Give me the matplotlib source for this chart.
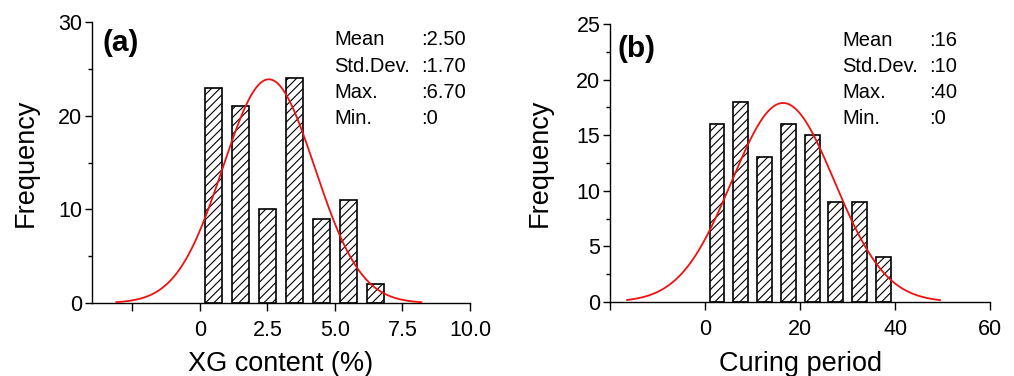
import numpy as np
import matplotlib
matplotlib.use("Agg")
import matplotlib.pyplot as plt
from matplotlib.ticker import MultipleLocator, FixedLocator

plt.rcParams['font.family'] = ['Liberation Sans', 'DejaVu Sans']
plt.rcParams['hatch.linewidth'] = 0.8

# Panel (a) data
xg_centers = [0.5, 1.5, 2.5, 3.5, 4.5, 5.5, 6.5]
xg_freq = [23, 21, 10, 24, 9, 11, 2]
xg_stats = [("Mean", ":2.50"), ("Std.Dev.", ":1.70"), ("Max.", ":6.70"), ("Min.", ":0")]
xg_fit = dict(mean=2.55, sd=1.7, peak=23.9, lo=-3.1, hi=8.2)
xg_ticks = [-2.5, 0, 2.5, 5.0, 7.5, 10.0]
xg_ticklabels = ["", "0", "2.5", "5.0", "7.5", "10.0"]

# Panel (b) data
cp_centers = [2.5, 7.5, 12.5, 17.5, 22.5, 27.5, 32.5, 37.5]
cp_freq = [16, 18, 13, 16, 15, 9, 9, 4]
cp_stats = [("Mean", ":16"), ("Std.Dev.", ":10"), ("Max.", ":40"), ("Min.", ":0")]
cp_fit = dict(mean=16.4, sd=10.8, peak=17.9, lo=-16.4, hi=49.4)
cp_ticks = [-20, 0, 20, 40, 60]
cp_ticklabels = ["", "0", "20", "40", "60"]

fig = plt.figure(figsize=(10.14, 3.76), dpi=100)

def panel(rect, centers, freq, width, fit, xlim, ylim, ymajor, xticks, xticklabels,
          xlabel, tag, tagpos, stats, statx, valx, staty, xlabel_y, ylabel_x):
    ax = fig.add_axes(rect)
    ax.bar(centers, freq, width=width, facecolor='white', edgecolor='black',
           linewidth=1.2, hatch='////', zorder=2)
    xs = np.linspace(fit['lo'], fit['hi'], 400)
    ys = fit['peak'] * np.exp(-(xs - fit['mean'])**2 / (2 * fit['sd']**2))
    ax.plot(xs, ys, color='#ee1111', lw=1.3, zorder=3)
    ax.set_xlim(*xlim)
    ax.set_ylim(*ylim)
    ax.spines['top'].set_visible(False)
    ax.spines['right'].set_visible(False)
    for s in ('left', 'bottom'):
        ax.spines[s].set_linewidth(1.0)
    ax.yaxis.set_major_locator(MultipleLocator(ymajor))
    ax.yaxis.set_minor_locator(MultipleLocator(ymajor / 2))
    ax.xaxis.set_major_locator(FixedLocator(xticks))
    ax.set_xticklabels(xticklabels)
    ax.tick_params(axis='y', which='major', direction='out', length=5, width=1, labelsize=15.5, pad=2)
    ax.tick_params(axis='y', which='minor', direction='out', length=3, width=1)
    ax.tick_params(axis='x', which='major', direction='out', length=6, width=1, labelsize=15.5, pad=6)
    ax.set_ylabel("Frequency", fontsize=19.5)
    ax.yaxis.set_label_coords(ylabel_x, 0.5)
    ax.set_xlabel(xlabel, fontsize=19.5)
    ax.xaxis.set_label_coords(0.5, xlabel_y)
    ax.text(tagpos[0], tagpos[1], tag, transform=ax.transAxes, fontsize=21.5,
            fontweight='bold', va='center', ha='left')
    for i, (k, v) in enumerate(stats):
        y = staty - i * 0.093
        ax.text(statx, y, k, transform=ax.transAxes, fontsize=14.5, va='center', ha='left')
        ax.text(valx, y, v, transform=ax.transAxes, fontsize=14.5, va='center', ha='left')
    return ax

panel([0.0907, 0.194, 0.3728, 0.747], xg_centers, xg_freq, 0.62, xg_fit,
      (-4.0, 10.0), (0, 30), 10, xg_ticks, xg_ticklabels,
      "XG content (%)", "(a)", (0.027, 0.925), xg_stats, 0.64, 0.87, 0.937, -0.172, -0.14)

panel([0.6016, 0.197, 0.3751, 0.739], cp_centers, cp_freq, 3.15, cp_fit,
      (-20, 60), (0, 25), 5, cp_ticks, cp_ticklabels,
      "Curing period", "(b)", (0.02, 0.91), cp_stats, 0.61, 0.84, 0.94, -0.178, -0.15)

fig.savefig("out.png", dpi=100)
